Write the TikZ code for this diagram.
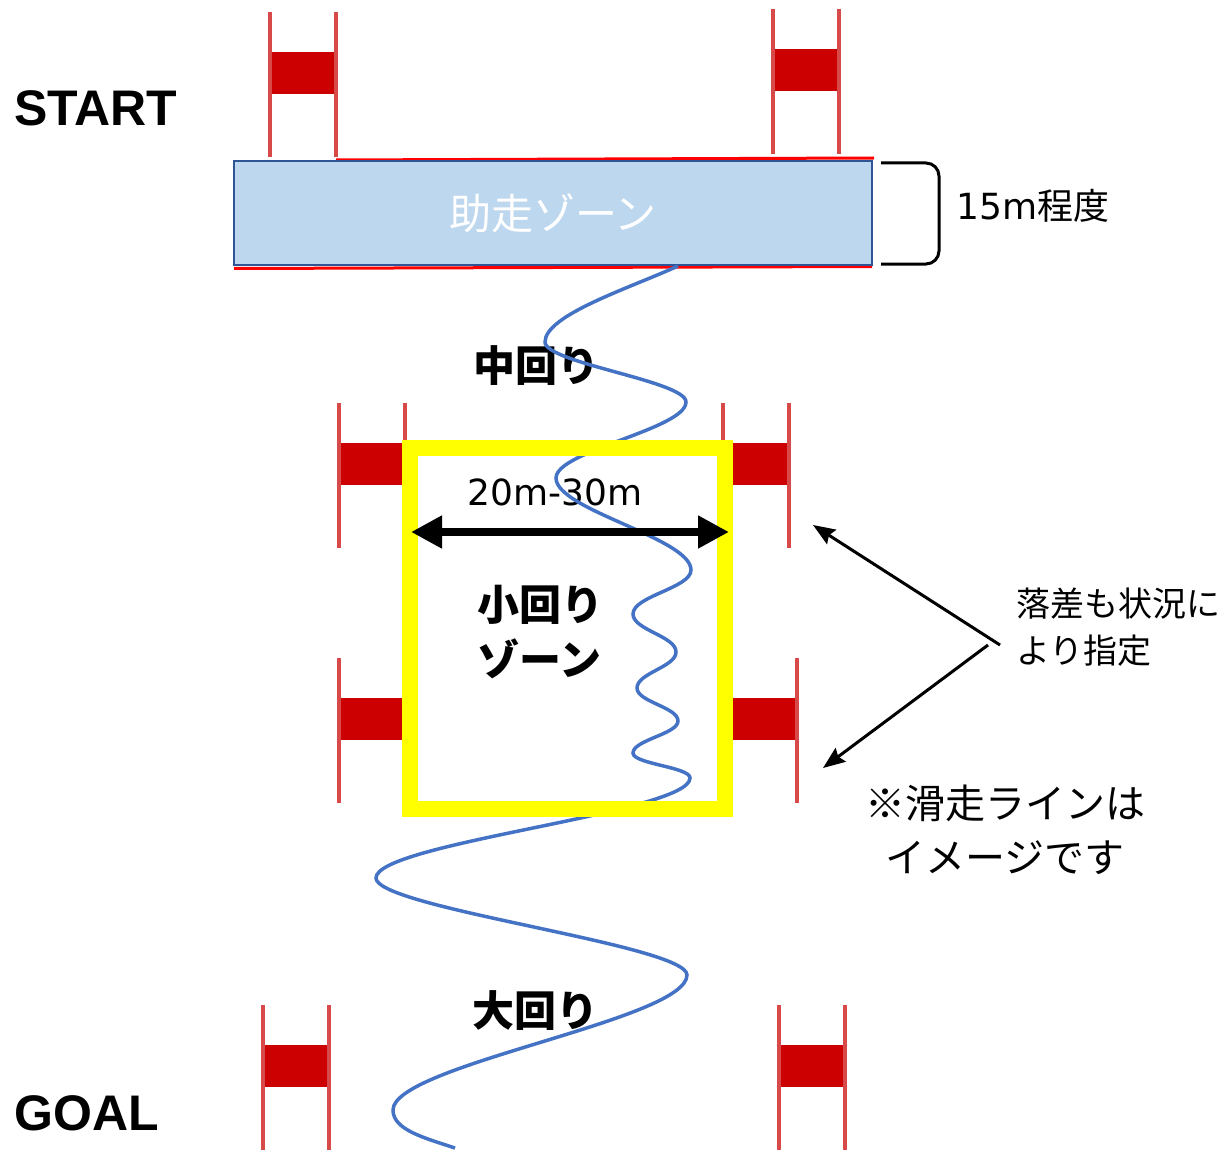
\documentclass[tikz,border=0pt]{standalone}
\usepackage{fontspec}
\setmainfont{DejaVu Sans}
\newfontfamily\cjk{Noto Sans CJK JP}
\newfontfamily\lsans{Liberation Sans}
\usetikzlibrary{arrows.meta}
\definecolor{bandred}{HTML}{CC0000}
\definecolor{postred}{HTML}{D84A4A}
\definecolor{zonefill}{HTML}{BDD7EE}
\definecolor{zoneedge}{HTML}{2F5597}
\definecolor{wavecol}{HTML}{4472C4}
\definecolor{ybox}{HTML}{FFFF00}
\tikzset{
  gatepost/.style={postred, line width=3.5pt},
  hgate/.pic={
    \fill[bandred] (0,40) rectangle (66,82);
    \draw[gatepost] (0,0) -- (0,145);
    \draw[gatepost] (66,0) -- (66,145);
  },
  lbl/.style={inner sep=0pt, text=black},
  latinbig/.style={lbl, font=\lsans\bfseries\fontsize{50}{52}\selectfont, anchor=base west},
  jpbold/.style={lbl, font=\cjk\bfseries\fontsize{42}{55}\selectfont},
  wavepath/.style={wavecol, line width=3.5pt},
  pointer/.style={line width=3pt, -{Stealth[length=22pt,width=17pt,inset=3pt]}},
  span/.style={line width=8pt, {Triangle[length=31pt,width=31pt]}-{Triangle[length=31pt,width=31pt]}}
}
\begin{document}
\begin{tikzpicture}[x=1pt,y=-1pt]
\useasboundingbox (0,0) rectangle (1230,1150);
\clip (0,0) rectangle (1230,1150);

% gates
\pic at (270,12) {hgate};
\pic at (773,9) {hgate};
\pic at (339,403) {hgate};
\pic at (723,403) {hgate};
\pic at (339,658) {hgate};
\pic at (731,658) {hgate};
\pic at (263,1005) {hgate};
\pic at (779,1005) {hgate};

% run-up zone
\draw[red, line width=3pt] (336,160) -- (874,158);
\draw[red, line width=3pt] (234,268.5) -- (872,266.5);
\node[draw=zoneedge, line width=2pt, fill=zonefill, minimum width=638pt,
      minimum height=104pt, inner sep=0pt, text=white,
      font=\cjk\fontsize{42}{50}\selectfont] (runup) at (553,213) {助走ゾーン};

% brace and length
\draw[line width=3pt, rounded corners=13pt] (881,163) -- (939,163) -- (939,264) -- (881,264);
\node[lbl, anchor=base west, font=\fontsize{36}{40}\selectfont] (len) at (956,220) {15m{\cjk 程度}};

% labels under the line
\node[latinbig] (start) at (14,126) {START};
\node[latinbig] (goal) at (14,1130) {GOAL};
\node[jpbold] (mid) at (536,366) {中回り};
\node[jpbold] (big) at (535,1011) {大回り};
\node[lbl, anchor=base, font=\fontsize{36}{40}\selectfont] (width) at (555,505) {20m-30m};
\node[jpbold, align=left, anchor=west] (small) at (477,632) {小回り\\ゾーン};

% skating line
\draw[wavepath] (678,266)
  .. controls (630,288) and (545,315) .. (545,342)
  .. controls +(0,21) and +(0,-21) .. (686,402)
  .. controls +(0,27) and +(0,-27) .. (556,478)
  .. controls +(0,32) and +(0,-32) .. (691,570)
  .. controls +(0,18) and +(0,-18) .. (633,614)
  .. controls +(0,16) and +(0,-16) .. (676,652)
  .. controls +(0,15) and +(0,-15) .. (637,688)
  .. controls +(0,14) and +(0,-14) .. (678,721)
  .. controls +(0,13) and +(0,-13) .. (633,753)
  .. controls +(0,11) and +(0,-11) .. (690,778)
  .. controls +(0,35) and +(0,-35) .. (376,878)
  .. controls +(0,30) and +(0,-30) .. (687,975)
  .. controls +(0,45) and +(0,-45) .. (393,1110)
  .. controls +(0,20) and (425,1138) .. (455,1148);

% small-turn zone
\draw[ybox, line width=16pt] (410,448) rectangle (725,809);

% width arrow
\coordinate (wl) at (411,532);
\coordinate (wr) at (729,532);
\draw[span] (wl) -- (wr);

% right notes
\node[lbl, align=left, anchor=west, font=\cjk\fontsize{34}{47}\selectfont] (drop) at (1016,627) {落差も状況に\\より指定};
\coordinate (fu) at (1000,645);
\coordinate (fd) at (988,645);
\coordinate (tu) at (813,525);
\coordinate (td) at (823,768);
\draw[pointer] (fu) -- (tu);
\draw[pointer] (fd) -- (td);
\node[lbl, align=center, font=\cjk\fontsize{40}{54}\selectfont] (note) at (1005,830) {※滑走ラインは\\イメージです};
\end{tikzpicture}
\end{document}
